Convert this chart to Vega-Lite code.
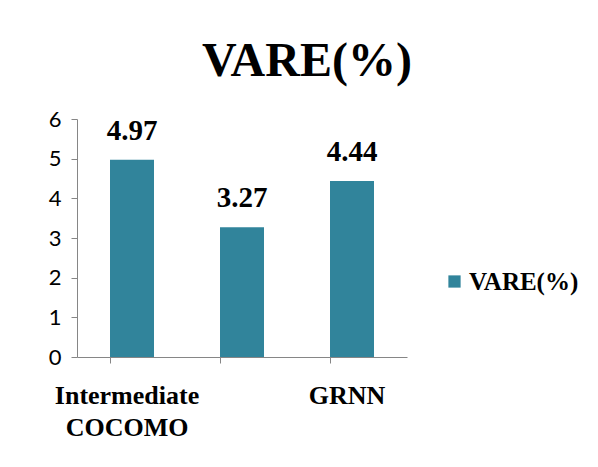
{
  "$schema": "https://vega.github.io/schema/vega-lite/v6.json",
  "width": 330,
  "height": 238,
  "autosize": {"type": "none"},
  "padding": {"left": 77, "top": 119, "right": 191, "bottom": 110},
  "background": "white",
  "title": {
    "text": "VARE(%)",
    "font": "Liberation Serif",
    "fontWeight": "bold",
    "fontSize": 48,
    "color": "black",
    "anchor": "middle",
    "frame": "group",
    "dx": 65,
    "offset": 22
  },
  "data": {
    "values": [
      {"method": "Intermediate COCOMO", "series": "VARE(%)", "value": 4.97},
      {"method": "", "series": "VARE(%)", "value": 3.27},
      {"method": "GRNN", "series": "VARE(%)", "value": 4.44}
    ]
  },
  "encoding": {
    "x": {
      "field": "method",
      "type": "nominal",
      "sort": null,
      "title": null,
      "scale": {"paddingInner": 0.6, "paddingOuter": 0.3},
      "axis": {
        "labelAngle": 0,
        "labelExpr": "split(datum.label, ' ')",
        "labelFont": "Liberation Serif",
        "labelFontWeight": "bold",
        "labelFontSize": 26,
        "labelColor": "black",
        "labelLineHeight": 32,
        "labelPadding": 19,
        "labelOffset": -5,
        "bandPosition": 0,
        "tickSize": 6,
        "tickColor": "#868686",
        "domainColor": "#868686",
        "labelLimit": 300
      }
    },
    "y": {
      "field": "value",
      "type": "quantitative",
      "title": null,
      "scale": {"domain": [0, 6]},
      "axis": {
        "values": [0, 1, 2, 3, 4, 5, 6],
        "grid": false,
        "labelFont": "Lato",
        "labelFontSize": 22,
        "labelColor": "black",
        "labelPadding": 10,
        "tickSize": 6,
        "tickColor": "#868686",
        "domainColor": "#868686"
      }
    }
  },
  "layer": [
    {
      "mark": {"type": "bar", "color": "#31849B"},
      "encoding": {
        "color": {
          "field": "series",
          "type": "nominal",
          "scale": {"range": ["#31849B"]},
          "legend": {
            "title": null,
            "orient": "none",
            "legendX": 365,
            "legendY": 150,
            "symbolType": "square",
            "symbolSize": 150,
            "symbolStrokeWidth": 0,
            "labelFont": "Liberation Serif",
            "labelFontWeight": "bold",
            "labelFontSize": 25,
            "labelColor": "black",
            "labelOffset": 2
          }
        }
      }
    },
    {
      "mark": {
        "type": "text",
        "baseline": "bottom",
        "dy": -14,
        "font": "Liberation Serif",
        "fontWeight": "bold",
        "fontSize": 29,
        "color": "black"
      },
      "encoding": {
        "text": {"field": "value", "type": "quantitative", "format": ".2f"}
      }
    }
  ],
  "config": {"view": {"stroke": null}}
}
